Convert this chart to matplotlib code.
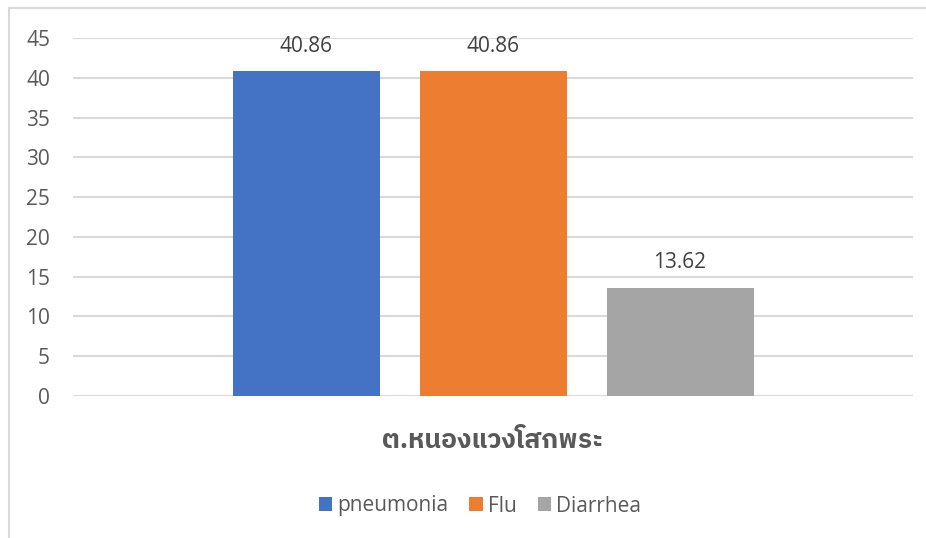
import matplotlib
matplotlib.use("Agg")
import matplotlib.pyplot as plt
from matplotlib import font_manager
from matplotlib.patches import Rectangle

category = "ต.หนองแวงโสกพระ"
series = ["pneumonia", "Flu", "Diarrhea"]
values = [40.86, 40.86, 13.62]
colors = ["#4472C4", "#ED7D31", "#A5A5A5"]
yticks = [0, 5, 10, 15, 20, 25, 30, 35, 40, 45]

names = sorted({f.name for f in font_manager.fontManager.ttflist})
thai = [n for n in names if "Thai" in n]

base = "Open Sans"
fam = thai + [base, "DejaVu Sans"]
plt.rcParams["font.family"] = [base, "DejaVu Sans"]

fig = plt.figure(figsize=(9.26, 5.38), dpi=100)
fig.patches.append(Rectangle((9/926, -0.1), 1.2, (538-8)/538 + 0.1, transform=fig.transFigure,
                             fill=False, edgecolor="#D9D9D9", linewidth=1.5))
ax = fig.add_axes([73/926, 1-396/538, 840/926, (396-38)/538])

width = 147/840
step = 187/840
for i, (s, v, c) in enumerate(zip(series, values, colors)):
    x = 0.5 + (i - 1) * step
    ax.bar(x, v, width=width, color=c, label=s, zorder=3)
    ax.text(x, v + 1.8, f"{v:.2f}", ha="center", va="bottom", fontsize=15, color="#404040")

ax.set_xlim(0, 1)
ax.set_ylim(0, 45)
ax.set_yticks(yticks)
ax.set_yticklabels([str(t) for t in yticks], fontsize=15, color="#595959")
ax.yaxis.grid(True, color="#D9D9D9", linewidth=1.5, zorder=0)
ax.set_xticks([])
for sp in ax.spines.values():
    sp.set_visible(False)
ax.tick_params(axis="y", length=0, pad=16.5)

fig.text(493/926, 1-441/538, category, ha="center", va="center", fontsize=19,
         fontweight="bold", color="#595959", family=fam)

leg = fig.legend(loc="center", bbox_to_anchor=(480/926, 1-506/538), ncol=3, frameon=False,
                 fontsize=15, handlelength=0.65, handleheight=0.65, columnspacing=1.0,
                 handletextpad=0.25, labelcolor="#595959")

fig.savefig("out.png", dpi=100)
